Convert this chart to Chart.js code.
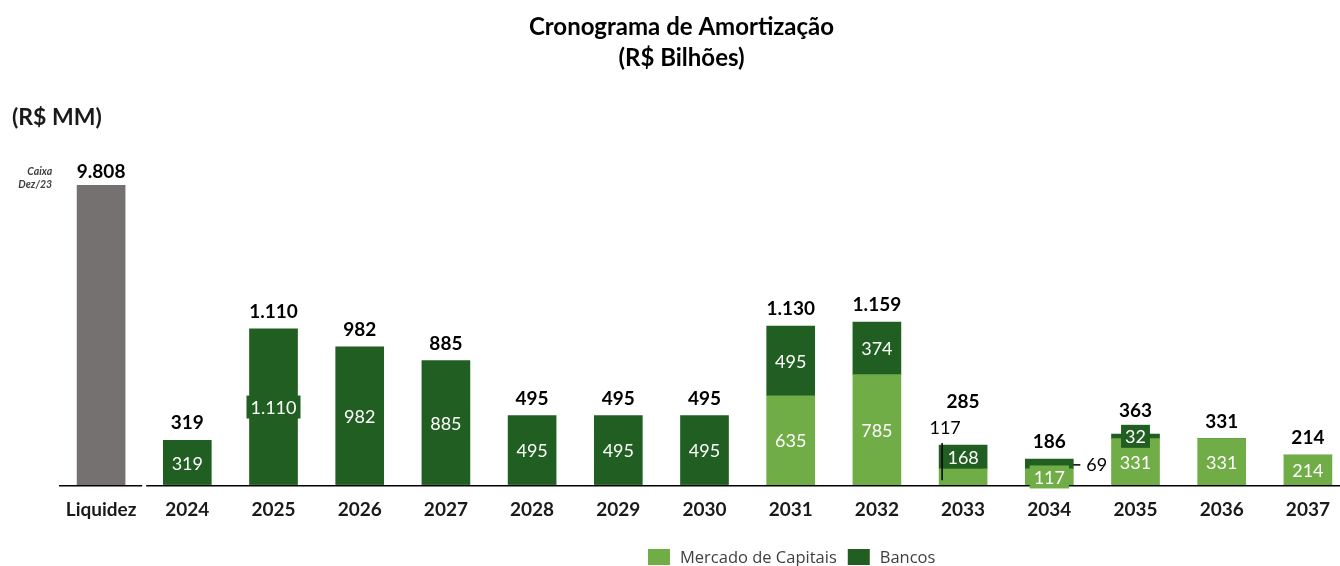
<!DOCTYPE html>
<html lang="pt-BR">
<head>
<meta charset="utf-8">
<title>Cronograma de Amortização</title>
<script src="https://cdn.jsdelivr.net/npm/chart.js@4.4.1/dist/chart.umd.min.js"></script>
<style>
  html, body { margin: 0; padding: 0; background: #fff; overflow: hidden; }
  #wrap { position: relative; width: 1352px; height: 566px; }
</style>
</head>
<body>
<div id="wrap"><canvas id="grafico"></canvas></div>
<script>
// dados (R$ MM)
const categorias = ['Liquidez', '2024', '2025', '2026', '2027', '2028', '2029', '2030',
                    '2031', '2032', '2033', '2034', '2035', '2036', '2037'];
const caixaDez23 = 9808;
// altura desenhada da barra de caixa (eixo quebrado no original)
const caixaAlturaEixo = 2130;
const mercadoCapitais = [0, 0, 0, 0, 0, 0, 0, 635, 785, 117, 117, 331, 331, 214];
const bancos = [319, 1110, 982, 885, 495, 495, 495, 495, 374, 168, 69, 32, 0, 0];

const COR_CAIXA = '#767171';
const COR_MERCADO = '#70AD47';
const COR_BANCOS = '#215E21';
const FONTE = 'Lato, "Open Sans", sans-serif';

// rótulos que no original ficam fora da barra: índice da categoria -> dataset, lado
const rotuloExterno = { 10: { ds: 1, lado: 'esquerda' }, 11: { ds: 2, lado: 'direita' } };

function fmt(v) {
    return String(v).replace(/\B(?=(\d{3})+(?!\d))/g, '.');
}

const rotulos = {
    id: 'rotulos',
    afterDatasetsDraw: function(chart) {
        var ctx = chart.ctx;
        var x = chart.scales.x, y = chart.scales.y;
        var base = y.getPixelForValue(0);
        ctx.save();

        // linha do eixo, com quebra entre Liquidez e 2024
        var p0 = x.getPixelForValue(0), p1 = x.getPixelForValue(1);
        var meio = (p0 + p1) / 2;
        ctx.strokeStyle = '#000';
        ctx.lineWidth = 1.6;
        ctx.beginPath();
        ctx.moveTo(p0 - (p1 - p0) / 2 + 1, base + 0.5);
        ctx.lineTo(meio - 2, base + 0.5);
        ctx.moveTo(meio + 2, base + 0.5);
        ctx.lineTo(chart.width, base + 0.5);
        ctx.stroke();

        // barra de caixa
        var elCaixa = chart.getDatasetMeta(0).data[0];
        ctx.fillStyle = '#000';
        ctx.textAlign = 'center';
        ctx.textBaseline = 'middle';
        ctx.font = 'bold 19px ' + FONTE;
        ctx.fillText(fmt(caixaDez23), elCaixa.x, elCaixa.y - 13);
        ctx.fillStyle = '#404040';
        ctx.textAlign = 'right';
        ctx.font = 'italic bold 10.5px ' + FONTE;
        ctx.fillText('Caixa', elCaixa.x - 49, elCaixa.y - 14);
        ctx.fillText('Dez/23', elCaixa.x - 49, elCaixa.y - 1);

        for (var i = 1; i < categorias.length; i++) {
            var topo = base, topoCaixa = base;
            var ext = rotuloExterno[i];
            [1, 2].forEach(function(ds) {
                var v = chart.data.datasets[ds].data[i];
                if (!v) return;
                var el = chart.getDatasetMeta(ds).data[i];
                topo = Math.min(topo, el.y);
                var cy = (el.y + el.base) / 2;
                var txt = fmt(v);
                ctx.font = '18px ' + FONTE;
                if (ext && ext.ds === ds) {
                    ctx.fillStyle = '#000';
                    ctx.strokeStyle = '#000';
                    ctx.lineWidth = 1.5;
                    if (ext.lado === 'direita') {
                        ctx.beginPath();
                        ctx.moveTo(el.x + el.width / 2, cy + 1);
                        ctx.lineTo(el.x + el.width / 2 + 7, cy + 1);
                        ctx.stroke();
                        ctx.textAlign = 'left';
                        ctx.fillText(txt, el.x + el.width / 2 + 13, cy + 1);
                    }
                    return;
                }
                var w = ctx.measureText(txt).width + 8;
                ctx.fillStyle = chart.data.datasets[ds].backgroundColor;
                ctx.fillRect(el.x - w / 2, cy - 11.5, w, 23);
                topoCaixa = Math.min(topoCaixa, cy - 11.5);
                ctx.fillStyle = '#fff';
                ctx.textAlign = 'center';
                ctx.fillText(txt, el.x, cy + 1);
            });

            var elx = chart.getDatasetMeta(2).data[i].x;
            var total = mercadoCapitais[i - 1] + bancos[i - 1];
            var yTotal = Math.min(topo - 17, topoCaixa - 14);
            if (ext && ext.lado === 'esquerda') {
                // rótulo do mercado acima/à esquerda, com linha guia
                ctx.strokeStyle = '#000';
                ctx.lineWidth = 1.5;
                ctx.beginPath();
                ctx.moveTo(elx - 21, topo - 2);
                ctx.lineTo(elx - 21, base - 5);
                ctx.stroke();
                ctx.fillStyle = '#000';
                ctx.textAlign = 'center';
                ctx.font = '18px ' + FONTE;
                ctx.fillText(fmt(chart.data.datasets[ext.ds].data[i]), elx - 18, topo - 17);
                yTotal = topo - 43;
            }
            ctx.fillStyle = '#000';
            ctx.textAlign = 'center';
            ctx.font = 'bold 19px ' + FONTE;
            ctx.fillText(fmt(total), elx, yTotal);
        }

        // legenda
        var itens = [chart.data.datasets[1], chart.data.datasets[2]];
        var lx = 648, ly = 557;
        ctx.font = '16.5px "Open Sans", sans-serif';
        ctx.textAlign = 'left';
        itens.forEach(function(d) {
            ctx.fillStyle = d.backgroundColor;
            ctx.fillRect(lx, ly - 8, 22, 16);
            ctx.fillStyle = '#404040';
            ctx.fillText(d.label, lx + 32, ly + 1);
            lx += 32 + ctx.measureText(d.label).width + 11;
        });
        ctx.restore();
    }
};

var ctx = document.getElementById('grafico').getContext('2d');
var grafico = new Chart(ctx, {
    type: 'bar',
    data: {
        labels: categorias,
        datasets: [
            {
                label: 'Caixa Dez/23',
                data: [caixaAlturaEixo].concat(mercadoCapitais.map(function() { return null; })),
                backgroundColor: COR_CAIXA
            },
            {
                label: 'Mercado de Capitais',
                data: [null].concat(mercadoCapitais),
                backgroundColor: COR_MERCADO
            },
            {
                label: 'Bancos',
                data: [null].concat(bancos),
                backgroundColor: COR_BANCOS
            }
        ]
    },
    options: {
        responsive: true,
        maintainAspectRatio: false,
        animation: false,
        barThickness: 48,
        layout: { padding: { left: 12, right: 1, top: 0, bottom: 32 } },
        plugins: {
            legend: { display: false },
            tooltip: { enabled: false },
            title: {
                display: true,
                text: ['Cronograma de Amortização', '(R$ Bilhões)'],
                color: '#000',
                font: { family: FONTE, size: 24, weight: 'bold', lineHeight: 1.29 },
                padding: { top: 12, bottom: 31 }
            },
            subtitle: {
                display: true,
                text: '(R$ MM)',
                align: 'start',
                color: '#1a1a1a',
                font: { family: FONTE, size: 23, weight: 'bold', lineHeight: 1.1 },
                padding: { top: 0, bottom: 17 }
            }
        },
        scales: {
            x: {
                stacked: true,
                grid: { display: false, drawTicks: false },
                border: { display: false },
                ticks: {
                    color: '#1a1a1a',
                    padding: 13,
                    font: { family: FONTE, size: 19, weight: 'bold' }
                }
            },
            y: {
                stacked: true,
                min: 0,
                max: 2400,
                grid: { display: false, drawTicks: false },
                border: { display: false },
                ticks: { display: false },
                afterFit: function(s) { s.width = 46; }
            }
        }
    },
    plugins: [rotulos]
});
</script>
</body>
</html>
